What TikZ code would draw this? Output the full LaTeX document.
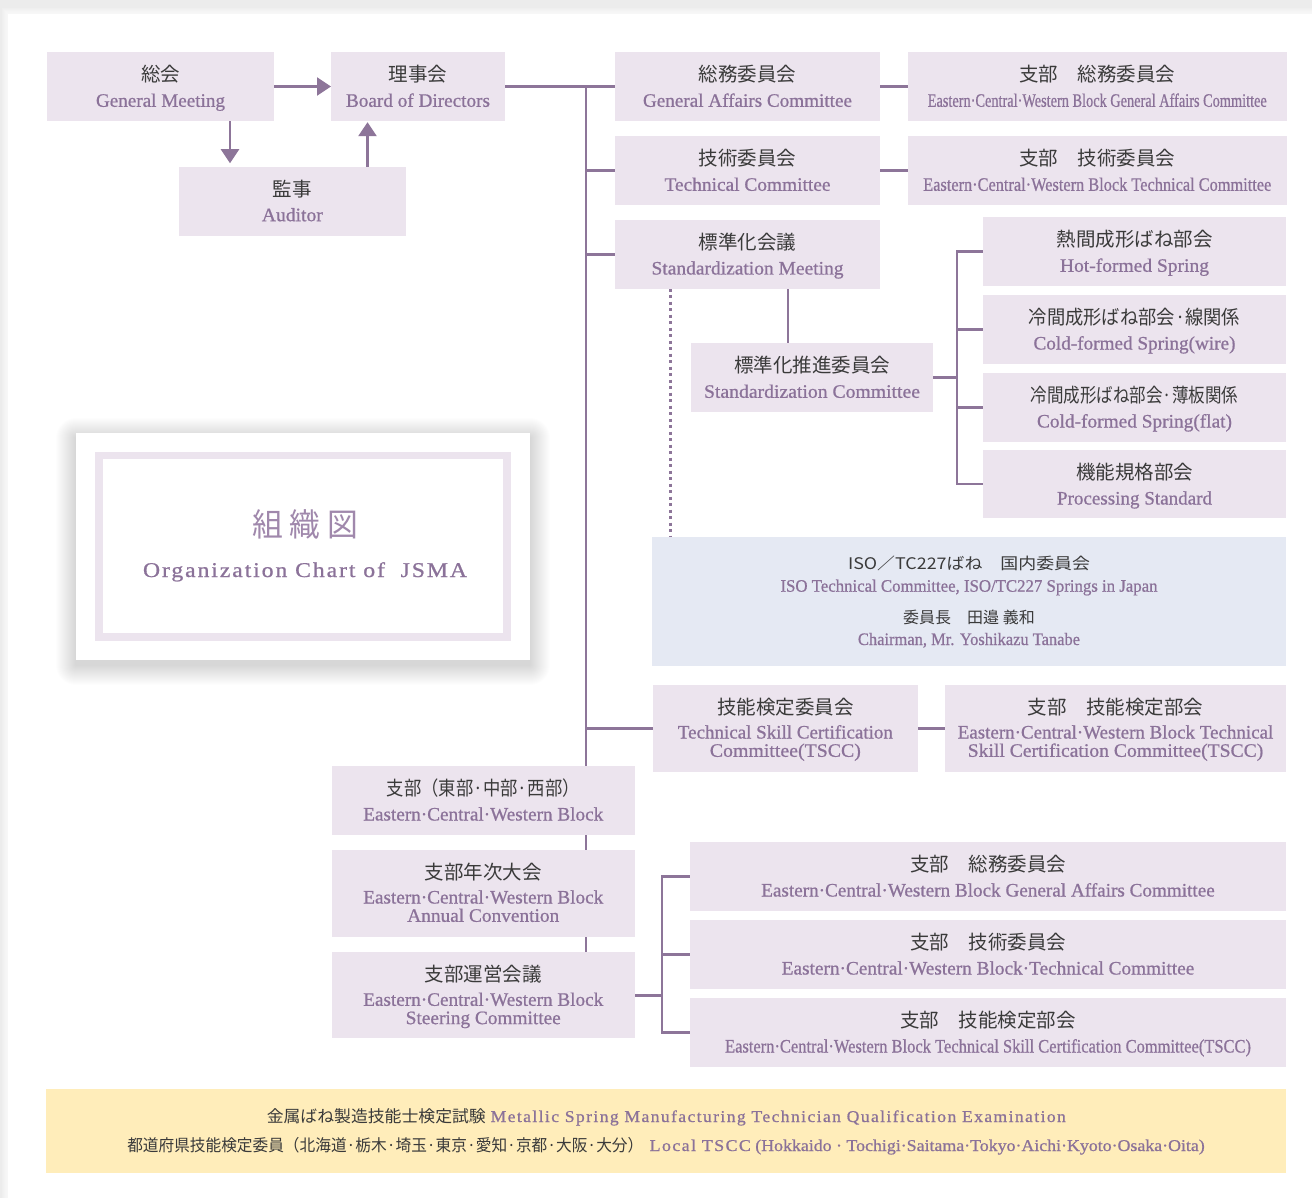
\documentclass[tikz,border=0pt]{standalone}
\usepackage{fontspec}
\usepackage{graphicx}
\setmainfont[FakeBold=0.8]{Liberation Serif}
\newfontfamily\jpf{Noto Sans CJK JP}
\newfontfamily\enls[LetterSpace=8,FakeBold=0.8]{Liberation Serif}
\usetikzlibrary{arrows.meta,calc}
\definecolor{boxc}{RGB}{236,228,238}
\definecolor{isoc}{RGB}{229,233,243}
\definecolor{yelc}{RGB}{255,237,186}
\definecolor{linec}{RGB}{141,117,153}
\definecolor{enc}{RGB}{139,114,153}
\definecolor{jpc}{RGB}{58,58,58}
\definecolor{titc}{RGB}{160,136,172}
\definecolor{pagebg}{RGB}{236,236,236}
\newcommand\fitw[2]{\resizebox{#1pt}{\height}{#2}}
\pgfdeclarelayer{bg}\pgfsetlayers{bg,main}
\tikzset{
 box/.style={fill=boxc, inner sep=0pt, outer sep=0pt},
 jpt/.style={font=\jpf\fontsize{19.5}{22}\selectfont, text=jpc, inner sep=0pt, anchor=base},
 ent/.style={font=\fontsize{19}{22}\selectfont, text=enc, inner sep=0pt, anchor=base},
 conn/.style={draw=linec, line width=2.4pt, line join=miter},
 arr/.style={conn, -{Triangle[length=14pt,width=18pt]}},
 dotline/.style={draw=linec, line width=2.8pt, dash pattern=on 3pt off 3.5pt},
}
% name, x1, y1, x2, y2, jp, en
\newcommand\bxA[7]{%
 \node[box, minimum width={#4-#2}, minimum height={#5-#3}] (#1) at ({(#2+#4)/2},{(#3+#5)/2}) {};
 \node[jpt] (#1-j) at ({(#2+#4)/2},{#3+29.5}) {#6};
 \node[ent] (#1-e) at ({(#2+#4)/2},{#3+54.5}) {#7};}
% name, x1, y1, x2, y2, jp, en1, en2
\newcommand\bxB[8]{%
 \node[box, minimum width={#4-#2}, minimum height={#5-#3}] (#1) at ({(#2+#4)/2},{(#3+#5)/2}) {};
 \node[jpt] (#1-j) at ({(#2+#4)/2},{#3+29.5}) {#6};
 \node[ent] (#1-e) at ({(#2+#4)/2},{#3+53.5}) {#7};
 \node[ent] (#1-f) at ({(#2+#4)/2},{#3+71.8}) {#8};}
\begin{document}
\begin{tikzpicture}[x=1pt,y=-1pt]
\useasboundingbox (0,0) rectangle (1312,1198);
\begin{pgfonlayer}{bg}
\fill[pagebg] (0,0) rectangle (1312,1198);
\foreach \i in {1,...,6} \fill[white, opacity=0.17] ({8-\i},{14-\i}) rectangle (1312,1198);
\fill[white] (8,14) rectangle (1312,1198);
% soft shadow of the title card
\foreach \i in {1,...,20} \fill[black, opacity=0.009, rounded corners={\i pt}] ({76-\i},{433-\i+5}) rectangle ({530+\i},{660+\i+5});
\end{pgfonlayer}

% top-left
\bxA{gm}{47}{52.3}{274}{120.7}{総会}{\fitw{129}{General Meeting}}
\bxA{rd}{331}{52.3}{505}{120.7}{理事会}{\fitw{144}{Board of Directors}}
\bxA{au}{179}{166.7}{405.7}{235.7}{監事}{\fitw{61}{Auditor}}

% committees
\bxA{ga}{615}{52.3}{880}{120.7}{総務委員会}{\fitw{209}{General Affairs Committee}}
\bxA{bga}{908}{52.3}{1286.5}{120.7}{支部　総務委員会}{\fitw{339}{Eastern·Central·Western Block General Affairs Committee}}
\bxA{tc}{615}{136.3}{880}{204.7}{技術委員会}{\fitw{166}{Technical Committee}}
\bxA{btc}{908}{136.3}{1286.5}{204.7}{支部　技術委員会}{\fitw{348}{Eastern·Central·Western Block Technical Committee}}
\bxA{smeet}{615}{220}{880}{288.7}{標準化会議}{\fitw{192}{Standardization Meeting}}
\bxA{scom}{691}{343.3}{933}{411.7}{標準化推進委員会}{\fitw{216}{Standardization Committee}}
\bxA{hot}{983}{217.3}{1286}{285.7}{熱間成形ばね部会}{\fitw{149}{Hot-formed Spring}}
\bxA{wire}{983}{295}{1286}{363.7}{\fitw{211.5}{冷間成形ばね部会·線関係}}{\fitw{202}{Cold-formed Spring(wire)}}
\bxA{flat}{983}{373}{1286}{441.7}{\fitw{207.5}{冷間成形ばね部会·薄板関係}}{\fitw{195}{Cold-formed Spring(flat)}}
\bxA{proc}{983}{450}{1286}{518.3}{機能規格部会}{\fitw{155}{Processing Standard}}

% ISO box
\node[box, fill=isoc, minimum width=634, minimum height=129] (iso) at (969,601.2) {};
\node[jpt, font=\jpf\fontsize{16}{18}\selectfont] (iso-j1) at (969,569.5) {\fitw{242}{ISO／TC227ばね　国内委員会}};
\node[ent, font=\fontsize{17.5}{20}\selectfont] (iso-e1) at (969,591.7) {\fitw{377}{ISO Technical Committee, ISO/TC227 Springs in Japan}};
\node[jpt, font=\jpf\fontsize{16}{18}\selectfont] (iso-j2) at (969,623.5) {委員長　田邉 義和};
\node[ent, font=\fontsize{17.5}{20}\selectfont] (iso-e2) at (969,645) {\fitw{222}{Chairman, Mr. Yoshikazu Tanabe}};

% TSCC
\bxB{tscc}{653}{685}{917.7}{771.7}{技能検定委員会}{\fitw{215}{Technical Skill Certification}}{\fitw{151}{Committee(TSCC)}}
\bxB{btscc}{945}{685}{1286}{771.7}{支部　技能検定部会}{\fitw{315.5}{Eastern·Central·Western Block Technical}}{\fitw{295.5}{Skill Certification Committee(TSCC)}}

% blocks
\bxA{blk}{331.5}{766}{635}{834.7}{\fitw{193}{支部（東部·中部·西部）}}{\fitw{240}{Eastern·Central·Western Block}}
\bxB{conv}{331.5}{850}{635}{936.7}{支部年次大会}{\fitw{240}{Eastern·Central·Western Block}}{\fitw{152}{Annual Convention}}
\bxB{steer}{331.5}{952.3}{635}{1038.3}{支部運営会議}{\fitw{240}{Eastern·Central·Western Block}}{\fitw{155}{Steering Committee}}
\bxA{bga2}{690}{842}{1286}{910.7}{支部　総務委員会}{\fitw{453.5}{Eastern·Central·Western Block General Affairs Committee}}
\bxA{btc2}{690}{920}{1286}{988.7}{支部　技術委員会}{\fitw{412.5}{Eastern·Central·Western Block·Technical Committee}}
\bxA{btscc2}{690}{998}{1286}{1066.7}{支部　技能検定部会}{\fitw{525.8}{Eastern·Central·Western Block Technical Skill Certification Committee(TSCC)}}

% title card
\node[fill=white, inner sep=0pt, minimum width=454, minimum height=227] (tcard) at (303,546.5) {};
\node[draw=boxc, line width=7.6pt, inner sep=0pt, minimum width=408.4, minimum height=181.4] (tframe) at (303,546.2) {};
\node[anchor=base, inner sep=0pt, font=\jpf\fontsize{32}{34}\selectfont, text=titc] (tjp) at (305,536) {\fitw{106}{組\hspace{7pt}織\hspace{7pt}図}};
\node[anchor=base, inner sep=0pt, font=\enls\fontsize{21}{24}\selectfont, text=enc] (ten) at (305,577) {\fitw{324}{Organization Chart of\ \ JSMA}};

% yellow band
\node[fill=yelc, inner sep=0pt, minimum width=1240, minimum height=83.7] (yel) at (666,1130.85) {};
\node[jpt, font=\jpf\fontsize{16.5}{18}\selectfont, anchor=base east] (yj1) at (486,1122) {\fitw{219}{金属ばね製造技能士検定試験}};
\node[ent, font=\enls\fontsize{16.5}{18}\selectfont, anchor=base west] (ye1) at (490.5,1122) {\fitw{575}{Metallic Spring Manufacturing Technician Qualification Examination}};
\node[jpt, font=\jpf\fontsize{16.5}{18}\selectfont, anchor=base east] (yj2) at (643.5,1151) {\fitw{516}{都道府県技能検定委員（北海道·栃木·埼玉·東京·愛知·京都·大阪·大分）}};
\node[ent, font=\fontsize{16.5}{18}\selectfont, anchor=base west] (ye2) at (649.5,1151) {\fitw{555}{{\enls Local TSCC} (Hokkaido · Tochigi·Saitama·Tokyo·Aichi·Kyoto·Osaka·Oita)}};

% connectors
\begin{pgfonlayer}{bg}
\coordinate (cA) at (230,0);
\coordinate (cB) at (367.5,0);
\coordinate (trk) at (586,0);
\coordinate (dotc) at (670.5,0);
\coordinate (smc) at (788,0);
\coordinate (br1) at (957,0);
\coordinate (br2) at (662,0);
\draw[arr] (gm.east) -- (rd.west);
\draw[arr, shorten >=3.5pt] (gm.south -| cA) -- (au.north -| cA);
\draw[arr, shorten >=1.5pt] (au.north -| cB) -- (rd.south -| cB);
\draw[conn] (rd.east) -- (ga.west);
\draw[conn] (rd.east -| trk) -- (steer.north -| trk);
\foreach \n in {tc,smeet,tscc} \draw[conn] (\n.west -| trk) -- (\n.west);
\draw[conn] (ga.east) -- (bga.west);
\draw[conn] (tc.east) -- (btc.west);
\draw[conn] (tscc.east) -- (btscc.west);
\draw[conn] (smeet.south -| smc) -- (scom.north -| smc);
\draw[dotline] (smeet.south -| dotc) -- (iso.north -| dotc);
\draw[conn] (scom.east) -- (scom.east -| br1);
\draw[conn] (hot.west) -- (hot.west -| br1) -- (proc.west -| br1) -- (proc.west);
\foreach \n in {wire,flat} \draw[conn] (\n.west -| br1) -- (\n.west);
\draw[conn] (steer.east) -- (steer.east -| br2);
\draw[conn] (bga2.west) -- (bga2.west -| br2) -- (btscc2.west -| br2) -- (btscc2.west);
\draw[conn] (btc2.west -| br2) -- (btc2.west);
\end{pgfonlayer}
\end{tikzpicture}
\end{document}
